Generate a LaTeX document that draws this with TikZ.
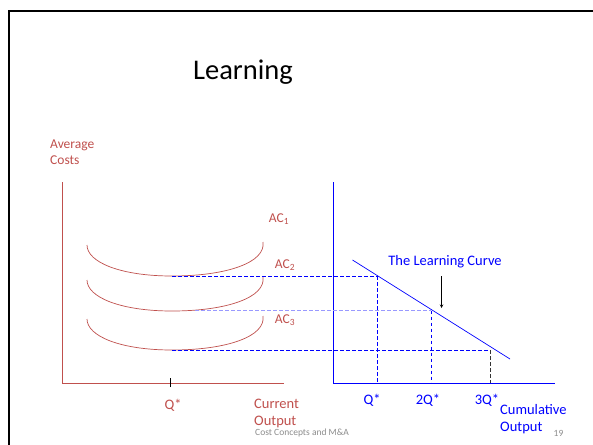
\documentclass[tikz,border=0pt]{standalone}
\usepackage{fontspec}
\setmainfont{Carlito}
\definecolor{acred}{HTML}{C0504D}
\definecolor{lcblue}{HTML}{0000FF}
\definecolor{lightblue}{HTML}{9999FF}
\begin{document}
\begin{tikzpicture}[x=1pt,y=-1pt,
  redtxt/.style={text=acred,font=\fontsize{14.5}{17}\selectfont,inner sep=0pt},
  bluetxt/.style={text=lcblue,font=\fontsize{14.5}{17}\selectfont,inner sep=0pt},
  aclbl/.style={text=acred,font=\fontsize{13.5}{15}\selectfont,inner sep=0pt},
  accurve/.style={draw=acred,line width=0.7pt},
  guide/.style={draw=lcblue,dash pattern=on 3.5pt off 2.5pt,line width=0.6pt},
  lguide/.style={draw=lightblue,dash pattern=on 3.5pt off 2.5pt,line width=1.1pt},
  redaxis/.style={draw=acred,line width=0.9pt},
  blueaxis/.style={draw=lcblue,line width=0.9pt}]
\useasboundingbox (0,0) rectangle (593,444);
\fill[white] (0,0) rectangle (593,444);
% slide frame
\draw[line width=2pt] (9,460) -- (9,11) -- (600,11);
% title
\node[font=\fontsize{28.5}{30}\selectfont,inner sep=0pt] (title) at (243,72) {Learning};
% left axes
\coordinate (ltop) at (62.5,182);
\coordinate (lorig) at (62.5,383);
\coordinate (lend) at (284,383);
\draw[redaxis] (ltop) -- (lorig) -- (lend);
\coordinate (tick) at (170.5,383);
\draw[line width=0.8pt] ([yshift=-4pt]tick) -- ([yshift=5pt]tick);
\node[text=acred,font=\fontsize{13.5}{16}\selectfont,inner sep=0pt,anchor=west,align=left] (avg) at (50,152) {Average\\Costs};
% AC curves
\coordinate (m1) at (172,276);
\coordinate (m2) at (172,311);
\coordinate (m3) at (172,350);
\draw[accurve] (87,245) .. controls (87,262) and (120,276) .. (m1) .. controls (228,276) and (266,262) .. (263,242);
\draw[accurve] (87,280) .. controls (87,297) and (120,311) .. (m2) .. controls (228,311) and (266,297) .. (263,277);
\draw[accurve] (87,319) .. controls (87,336) and (120,350) .. (m3) .. controls (228,350) and (266,336) .. (263,316);
\node[aclbl] (ac1) at (279,219) {AC\textsubscript{1}};
\node[aclbl] (ac2) at (285,265) {AC\textsubscript{2}};
\node[aclbl] (ac3) at (285,320) {AC\textsubscript{3}};
\node[redtxt] (lq) at (173,405) {Q*};
\node[redtxt,anchor=west,align=left] (curout) at (254,413.5) {Current\\Output};
% right axes
\coordinate (rtop) at (333.5,182);
\coordinate (rorig) at (333.5,383);
\coordinate (rend) at (555,383);
\draw[blueaxis] (rtop) -- (rorig) -- (rend);
% learning curve
\coordinate (lcs) at (352.5,260);
\coordinate (lce) at (510,359);
\draw[lcblue,line width=0.7pt] (lcs) -- (lce);
\coordinate (p1) at (377.7,276);
\coordinate (p2) at (431,310.5);
\coordinate (p3) at (490.7,350);
\coordinate (b1) at (377.7,383);
\coordinate (b2) at (431,383);
\coordinate (b3) at (490.7,383);
\draw[guide] (m1) -- (p1);
\draw[guide] (p1) -- (b1);
\draw[lguide] (195,310.5) -- (p2);
\draw[guide] (p2) -- (b2);
\draw[guide] (m3) -- (p3);
\draw[draw=black!80,dash pattern=on 3.5pt off 2.5pt,line width=0.6pt] (p3) -- (b3);
\node[bluetxt] (lclabel) at (445,262) {The Learning Curve};
\draw[-stealth,line width=0.6pt] (441.5,276) -- (441.5,308);
\node[bluetxt] (rq1) at (372,400) {Q*};
\node[bluetxt] (rq2) at (428,400) {2Q*};
\node[bluetxt] (rq3) at (487,400) {3Q*};
\node[bluetxt,anchor=west,align=left] (cumout) at (500,419) {Cumulative\\Output};
% footer
\node[text=black!45,font=\fontsize{9.5}{10}\selectfont,inner sep=0pt,anchor=west] (footer) at (255,433) {Cost Concepts and M\&A};
\node[text=black!45,font=\fontsize{9.5}{10}\selectfont,inner sep=0pt] (pnum) at (558.5,433) {19};
\end{tikzpicture}
\end{document}
